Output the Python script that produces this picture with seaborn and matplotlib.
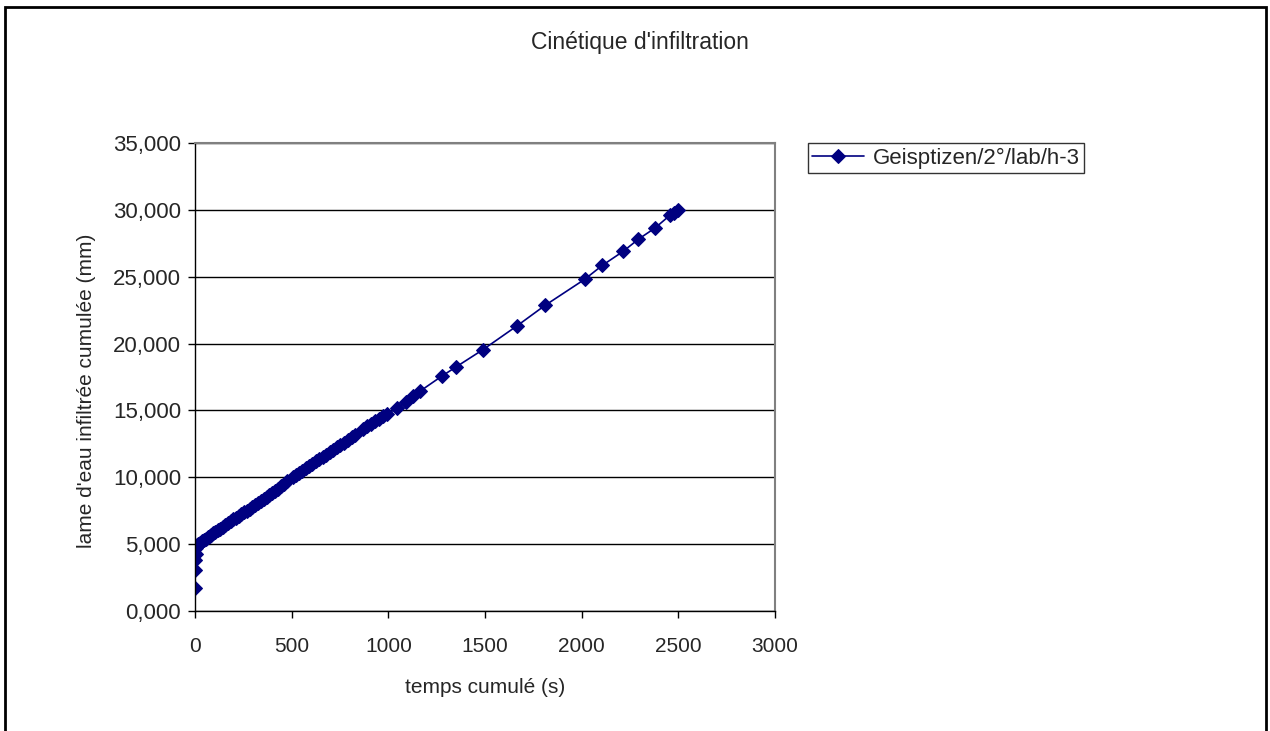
import matplotlib
matplotlib.use("Agg")
import matplotlib.pyplot as plt
import matplotlib.patches as mpatches
from matplotlib.ticker import FuncFormatter, MultipleLocator
import seaborn as sns
import pandas as pd

# ---- data ----
temps = [0, 1, 2, 3, 5, 8, 15, 25, 35, 45, 55, 65, 75, 85, 95, 105, 118, 130, 143, 156,
         170, 184, 198, 212, 226, 240, 254, 268, 282, 296, 310, 325, 340, 355, 370, 385,
         400, 415, 430, 445, 460, 478, 505, 520, 538, 555, 572, 590, 607, 625, 642, 660,
         678, 696, 714, 732, 750, 770, 790, 812, 830, 870, 890, 910, 930, 950, 970, 992,
         1045, 1090, 1130, 1165, 1275, 1350, 1490, 1668, 1810, 2015, 2107, 2215, 2293,
         2380, 2457, 2480, 2500]
lame = [1.70, 3.05, 3.80, 4.30, 4.70, 4.90, 5.00, 5.10, 5.20, 5.30, 5.40, 5.50, 5.60,
        5.70, 5.80, 5.90, 6.05, 6.15, 6.30, 6.40, 6.55, 6.70, 6.85, 6.95, 7.10, 7.25,
        7.40, 7.50, 7.65, 7.80, 7.95, 8.10, 8.25, 8.40, 8.55, 8.70, 8.85, 9.00, 9.15,
        9.35, 9.50, 9.70, 10.00, 10.15, 10.35, 10.50, 10.70, 10.85, 11.00, 11.20, 11.35,
        11.55, 11.70, 11.90, 12.05, 12.25, 12.40, 12.60, 12.80, 13.00, 13.15, 13.60,
        13.80, 14.00, 14.20, 14.35, 14.55, 14.75, 15.15, 15.65, 16.10, 16.45, 17.55,
        18.25, 19.55, 21.35, 22.85, 24.80, 25.85, 26.90, 27.80, 28.65, 29.60, 29.80, 30.00]
serie = "Geisptizen/2°/lab/h-3"
titre = "Cinétique d'infiltration"
xlabel = "temps cumulé (s)"
ylabel = "lame d'eau infiltrée cumulée (mm)"
xticks = [0, 500, 1000, 1500, 2000, 2500, 3000]

df = pd.DataFrame({"t": temps, "y": lame})

sns.set_style("white")
plt.rcParams["font.family"] = ["Liberation Sans", "DejaVu Sans"]

fig = plt.figure(figsize=(12.7, 7.31), dpi=100)
ax = fig.add_axes([195 / 1270, 1 - 611 / 731, 580 / 1270, 468 / 731])

sns.lineplot(data=df, x="t", y="y", ax=ax, sort=False, estimator=None,
             color="#000080", marker="D", markersize=7.5, markeredgecolor="#000080",
             linewidth=1.2, label=serie)

ax.set_xlim(0, 3000)
ax.set_ylim(0, 35)
ax.set_xticks(xticks)
ax.yaxis.set_major_locator(MultipleLocator(5))
ax.yaxis.set_major_formatter(FuncFormatter(lambda v, p: f"{v:.3f}".replace(".", ",")))
ax.grid(axis="y", color="black", linewidth=1.0)
ax.grid(axis="x", visible=False)
ax.set_axisbelow(True)

for s in ["left", "bottom"]:
    ax.spines[s].set_color("black")
    ax.spines[s].set_linewidth(1.0)
for s in ["top", "right"]:
    ax.spines[s].set_color("#808080")
    ax.spines[s].set_linewidth(1.5)

ax.tick_params(axis="both", direction="out", length=5, width=1, color="black",
               left=True, bottom=True)
ax.tick_params(axis="x", labelsize=15, pad=13.5)
ax.tick_params(axis="y", labelsize=16, pad=5)
ax.set_xlabel(xlabel, fontsize=15, labelpad=16)
ax.set_ylabel(ylabel, fontsize=15)
ax.yaxis.set_label_coords(-0.171, (611 - 391) / 468)

fig.text(640 / 1270, 1 - 42 / 731, titre, ha="center", va="center", fontsize=16.5)

leg = ax.legend(loc="upper left", bbox_to_anchor=(808 / 1270, 1 - 143 / 731),
                bbox_transform=fig.transFigure, fontsize=16, frameon=True,
                fancybox=False, borderaxespad=0, handlelength=2.3, borderpad=0.2,
                handletextpad=0.4)
leg.get_frame().set_edgecolor("black")
leg.get_frame().set_linewidth(1.0)

# outer chart border
fig.patches.append(mpatches.Rectangle((5 / 1270, -0.05), 1261 / 1270, 1.05 - 7 / 731,
                                      transform=fig.transFigure, fill=False,
                                      edgecolor="black", linewidth=2))

fig.savefig("out.png", dpi=100)
